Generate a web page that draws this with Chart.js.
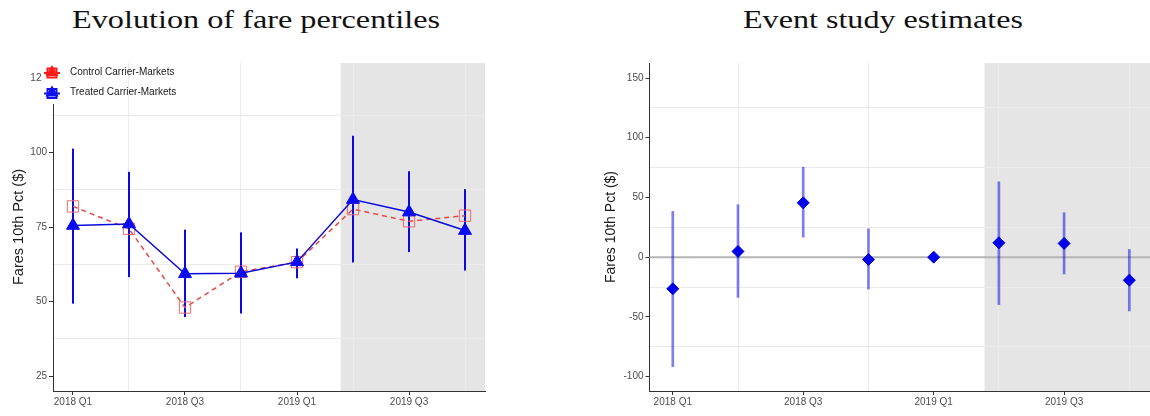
<!DOCTYPE html>
<html>
<head>
<meta charset="utf-8">
<script src="https://cdn.jsdelivr.net/npm/chart.js@4.4.1/dist/chart.umd.min.js"></script>
<style>
  body { margin: 0; width: 1150px; height: 416px; background: #fff; overflow: hidden; position: relative; }
  .title { position: absolute; top: 6px; font-family: 'Liberation Serif', serif; font-size: 25px; color: #111; white-space: nowrap; transform-origin: left top; }
  #faresChart { position: absolute; left: 0; top: 0; }
  #eventChart { position: absolute; left: 580px; top: 0; }
</style>
</head>
<body>
<div class="title" id="titleLeft" style="left:72px">Evolution of fare percentiles</div>
<div class="title" id="titleRight" style="left:743px">Event study estimates</div>
<canvas id="faresChart" width="500" height="416"></canvas>
<canvas id="eventChart" width="580" height="416"></canvas>
<script>
// Quarters and series
const quarters = ['2018 Q1', '2018 Q2', '2018 Q3', '2018 Q4', '2019 Q1', '2019 Q2', '2019 Q3', '2019 Q4'];
const treated = [75.5, 76, 59.3, 59.5, 63.3, 84.2, 80, 73.8];
const treatedLow = [49.3, 58.2, 44.8, 46, 57.8, 63.1, 66.6, 60.4];
const treatedHigh = [101.3, 93.5, 74.1, 73.2, 67.8, 105.6, 93.7, 87.7];
const control = [81.9, 74.4, 48, 60, 63.2, 81, 76.9, 78.8];

const estimates = [-26.5, 4.8, 45.5, -2, 0, 12, 11.5, -19.3];
const estLow = [-92, -34, 16.5, -27, -1.5, -40, -14.3, -45.3];
const estHigh = [38.6, 44.2, 75.7, 24, 1.5, 63.4, 37.5, 6.7];

const fareTicks = [25, 50, 75, 100, 125];
const estTicks = [-100, -50, 0, 50, 100, 150];
const postStart = 4.78; // treatment period shading starts here

// stretch the serif titles to their width
function fitTitle(id, width) {
    const el = document.getElementById(id);
    el.style.transform = `scaleX(${width / el.getBoundingClientRect().width})`;
}
fitTitle('titleLeft', 368);
fitTitle('titleRight', 280);

const points = arr => arr.map((v, i) => ({ x: i, y: v }));

// major ticks plus minor ones halfway between (grid only)
const withMinor = major => {
    const out = [];
    major.forEach((v, i) => {
        out.push({ value: v, major: true });
        if (i < major.length - 1) out.push({ value: (v + major[i + 1]) / 2, major: false });
    });
    return out;
};

const shadePlugin = {
    id: 'shade',
    beforeDraw(chart) {
        const { ctx, chartArea, scales } = chart;
        const x0 = scales.x.getPixelForValue(postStart);
        ctx.save();
        ctx.fillStyle = '#e5e5e5';
        ctx.fillRect(x0, chartArea.top, chartArea.right - x0, chartArea.bottom - chartArea.top);
        ctx.restore();
    }
};

const errorBars = (low, high, color, width) => ({
    id: 'errorBars',
    beforeDatasetsDraw(chart) {
        const { ctx, scales } = chart;
        ctx.save();
        ctx.strokeStyle = color;
        ctx.lineWidth = width;
        low.forEach((lo, i) => {
            const x = scales.x.getPixelForValue(i);
            ctx.beginPath();
            ctx.moveTo(x, scales.y.getPixelForValue(lo));
            ctx.lineTo(x, scales.y.getPixelForValue(high[i]));
            ctx.stroke();
        });
        ctx.restore();
    }
});

const zeroLine = {
    id: 'zeroLine',
    beforeDatasetsDraw(chart) {
        const { ctx, chartArea, scales } = chart;
        const y = scales.y.getPixelForValue(0);
        ctx.save();
        ctx.strokeStyle = '#b5b5b5';
        ctx.lineWidth = 2;
        ctx.beginPath();
        ctx.moveTo(chartArea.left, y);
        ctx.lineTo(chartArea.right, y);
        ctx.stroke();
        ctx.restore();
    }
};

// legend sits inside the panel, keys on a white background
const legendPlugin = {
    id: 'insideLegend',
    afterDraw(chart) {
        const { ctx } = chart;
        const items = [
            { label: 'Control Carrier-Markets', color: '#ff1a1a', y: 72 },
            { label: 'Treated Carrier-Markets', color: '#1010ee', y: 92.5 }
        ];
        ctx.save();
        ctx.fillStyle = '#fff';
        ctx.fillRect(42, 62, 20, 42);
        items.forEach(item => {
            const cx = 52;
            ctx.strokeStyle = item.color;
            ctx.fillStyle = item.color;
            ctx.lineWidth = 2;
            ctx.beginPath();
            ctx.moveTo(cx - 8, item.y + 1);
            ctx.lineTo(cx + 8, item.y + 1);
            ctx.stroke();
            ctx.strokeRect(cx - 4.5, item.y - 3.5, 9, 9);
            ctx.beginPath();
            ctx.moveTo(cx, item.y - 7);
            ctx.lineTo(cx + 6.5, item.y + 4);
            ctx.lineTo(cx - 6.5, item.y + 4);
            ctx.closePath();
            ctx.fill();
            ctx.fillStyle = '#1a1a1a';
            ctx.font = '10px "Liberation Sans", Arial, sans-serif';
            ctx.textBaseline = 'middle';
            ctx.fillText(item.label, 70, item.y);
        });
        ctx.restore();
    }
};

const tickFont = { family: '"Liberation Sans", Arial, sans-serif', size: 10 };

const xAxis = () => ({
    type: 'linear',
    min: -0.357,
    max: 7.357,
    afterBuildTicks: scale => { scale.ticks = quarters.map((q, i) => ({ value: i })); },
    afterFit: scale => { scale.height = 25; },
    ticks: {
        autoSkip: false,
        maxRotation: 0,
        padding: 1,
        color: '#4d4d4d',
        font: tickFont,
        callback: value => value % 2 === 0 ? quarters[value] : ''
    },
    grid: {
        color: ctx => ctx.tick && ctx.tick.value % 2 === 1 ? '#ebebeb' : 'rgba(0,0,0,0)',
        tickColor: ctx => ctx.tick && ctx.tick.value % 2 === 0 ? '#333' : 'rgba(0,0,0,0)',
        tickLength: 4
    },
    border: { display: true, color: '#333', width: 1 }
});

const yAxis = (min, max, major, width, titleSize, titlePad) => ({
    min: min,
    max: max,
    afterBuildTicks: scale => { scale.ticks = withMinor(major); },
    afterFit: scale => { scale.width = width; },
    ticks: {
        padding: 2,
        color: '#4d4d4d',
        font: tickFont,
        callback: (value, i, ticks) => ticks[i].major ? value : ''
    },
    grid: {
        color: ctx => ctx.tick && !ctx.tick.major ? '#ebebeb' : 'rgba(0,0,0,0)',
        tickColor: ctx => ctx.tick && ctx.tick.major ? '#333' : 'rgba(0,0,0,0)',
        tickLength: 4
    },
    border: { display: true, color: '#333', width: 1 },
    title: {
        display: true,
        text: 'Fares 10th Pct ($)',
        color: '#1a1a1a',
        font: { family: '"Liberation Sans", Arial, sans-serif', size: titleSize },
        padding: { top: titlePad, bottom: 0 }
    }
});

const baseOptions = {
    responsive: false,
    animation: false,
    events: [],
    plugins: { legend: { display: false }, tooltip: { enabled: false } }
};

// Left panel: fare levels for treated and control markets
new Chart(document.getElementById('faresChart'), {
    type: 'line',
    data: {
        datasets: [{
            label: 'Treated Carrier-Markets',
            data: points(treated),
            borderColor: '#0a0adc',
            borderWidth: 1.5,
            pointStyle: 'triangle',
            pointRadius: 7.5,
            pointBackgroundColor: '#0a0aee',
            pointBorderColor: '#0a0aee',
            pointBorderWidth: 1
        }, {
            label: 'Control Carrier-Markets',
            data: points(control),
            borderColor: '#e8474a',
            borderWidth: 1.5,
            borderDash: [5, 4],
            pointStyle: 'rect',
            pointRadius: 8,
            pointBackgroundColor: 'rgba(0,0,0,0)',
            pointBorderColor: '#e86a6a',
            pointBorderWidth: 1
        }]
    },
    options: {
        ...baseOptions,
        layout: { padding: { top: 63, right: 15, bottom: 0, left: 0 } },
        scales: { x: xAxis(), y: yAxis(20, 130, fareTicks, 53, 14.5, 10) }
    },
    plugins: [shadePlugin, errorBars(treatedLow, treatedHigh, '#0a0adc', 2), legendPlugin]
});

// Right panel: event study coefficients with confidence intervals
new Chart(document.getElementById('eventChart'), {
    type: 'line',
    data: {
        datasets: [{
            label: 'Estimate',
            data: points(estimates),
            showLine: false,
            pointStyle: 'rectRot',
            pointRadius: 6,
            pointBackgroundColor: '#0000e6',
            pointBorderColor: '#0000e6',
            pointBorderWidth: 1
        }]
    },
    options: {
        ...baseOptions,
        layout: { padding: { top: 63, right: 7.4, bottom: 0, left: 0 } },
        scales: { x: xAxis(), y: yAxis(-112.1, 162.6, estTicks, 69.5, 14, 23) }
    },
    plugins: [shadePlugin, zeroLine, errorBars(estLow, estHigh, 'rgba(0,0,230,0.5)', 2.7)]
});
</script>
</body>
</html>
